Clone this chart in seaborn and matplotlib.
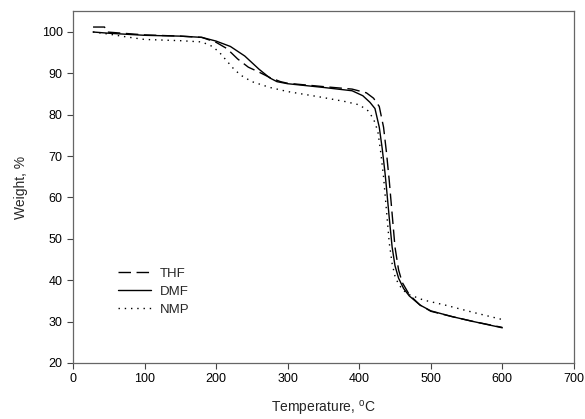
import matplotlib
matplotlib.use("Agg")
import matplotlib.pyplot as plt
import seaborn as sns
import pandas as pd

# TGA curves
thf_temp = [28, 44, 47, 100, 150, 180, 200, 215, 230, 245, 260, 275, 290, 300, 350, 390,
            410, 420, 428, 434, 438, 442, 446, 450, 455, 460, 470, 485, 500, 530, 560, 600]
thf_weight = [101.2, 101.2, 100, 99.3, 99.0, 98.7, 97.5, 96.0, 93.5, 91.5, 90.3, 89.0, 88.0, 87.6, 86.8, 86.2,
              85.3, 84.0, 82.0, 77.0, 71.0, 64.0, 56.0, 48.0, 42.5, 39.5, 36.5, 34.0, 32.5, 31.2, 30.0, 28.6]

dmf_temp = [28, 50, 100, 150, 180, 200, 220, 240, 260, 275, 285, 300, 350, 390, 405, 415,
            422, 428, 432, 436, 438, 442, 446, 450, 455, 462, 470, 485, 500, 530, 560, 600]
dmf_weight = [100, 99.7, 99.2, 99.0, 98.7, 97.8, 96.5, 94.2, 91.0, 88.9, 88.0, 87.5, 86.6, 85.8, 84.6, 83.0,
              81.5, 77.0, 72.0, 66.0, 62.5, 55.0, 48.0, 43.5, 40.5, 38.0, 36.2, 34.0, 32.6, 31.2, 30.0, 28.5]

nmp_temp = [28, 50, 75, 100, 150, 180, 195, 205, 215, 225, 235, 250, 275, 300, 345, 380, 400,
            412, 420, 426, 430, 434, 438, 442, 446, 450, 455, 462, 470, 490, 520, 560, 600]
nmp_weight = [100, 99.5, 98.8, 98.2, 97.9, 97.6, 96.5, 95.0, 93.0, 91.0, 89.5, 88.0, 86.6, 85.6, 84.3, 83.2, 82.4,
              81.0, 79.0, 76.0, 71.0, 65.0, 57.0, 49.0, 44.0, 41.0, 39.0, 37.5, 36.5, 35.2, 34.0, 32.2, 30.5]

x_ticks = [0, 100, 200, 300, 400, 500, 600, 700]
y_ticks = [20, 30, 40, 50, 60, 70, 80, 90, 100]

sns.set_style("ticks")
plt.rcParams['font.family'] = ['Liberation Sans', 'DejaVu Sans']
plt.rcParams['mathtext.fontset'] = 'custom'
plt.rcParams['mathtext.rm'] = 'Liberation Sans'

fig = plt.figure(figsize=(5.85, 4.19), dpi=100)
ax = fig.add_axes([0.1248, 0.1337, 0.8562, 0.8393])

series = [
    ("THF", thf_temp, thf_weight, (0, (9, 4))),
    ("DMF", dmf_temp, dmf_weight, "-"),
    ("NMP", nmp_temp, nmp_weight, (0, (1, 3.5))),
]
for name, t, w, ls in series:
    df = pd.DataFrame({"T": t, "W": w})
    sns.lineplot(data=df, x="T", y="W", ax=ax, color="black", lw=1.0,
                 linestyle=ls, label=name, sort=False)

ax.set_xlim(0, 700)
ax.set_ylim(20, 105)
ax.set_xticks(x_ticks)
ax.set_yticks(y_ticks)
ax.tick_params(axis="both", labelsize=9, direction="out", length=4, width=0.8, colors="#444444",
               labelcolor="black")
for sp in ax.spines.values():
    sp.set_visible(True)
    sp.set_color("#666666")
    sp.set_linewidth(0.9)

ax.set_xlabel("Temperature, $^\\mathrm{o}$C", fontsize=10, labelpad=10)
ax.set_ylabel("Weight, %", fontsize=10, labelpad=10)

leg = ax.legend(loc="lower left", bbox_to_anchor=(0.066, 0.1), frameon=False, fontsize=9.5,
                handlelength=2.5, handletextpad=0.7, labelspacing=0.45)

fig.savefig("out.png", dpi=100)
